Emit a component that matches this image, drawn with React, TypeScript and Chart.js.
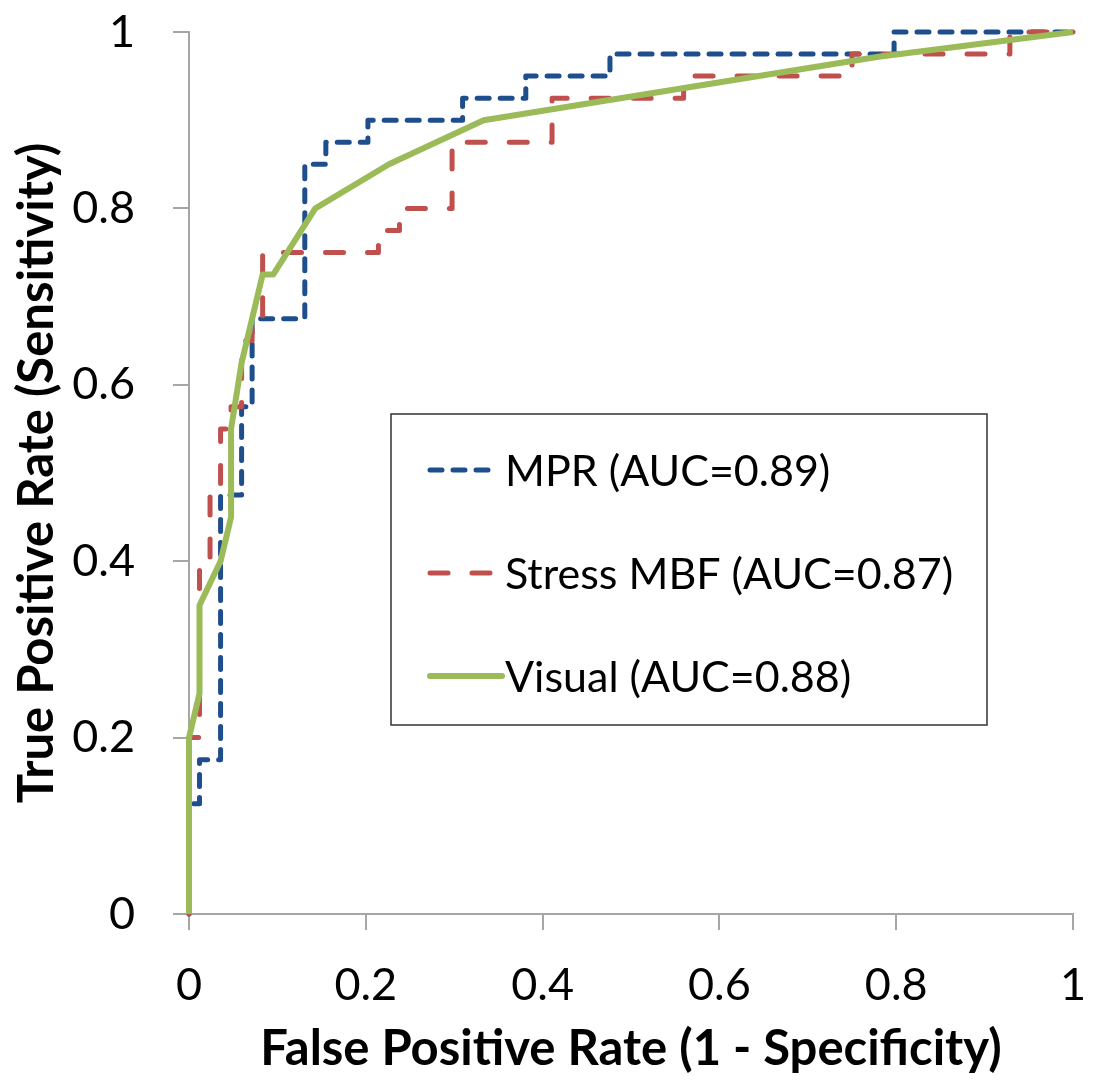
import React, { useEffect, useRef } from "react";
import { Chart, registerables } from "chart.js";

Chart.register(...registerables);

// ---- Data ----
const mprFpr = [0, 0, 0.0119, 0.0119, 0.0357, 0.0357, 0.0595, 0.0595, 0.0714, 0.0714, 0.131, 0.131, 0.1548, 0.1548, 0.2024, 0.2024, 0.3095, 0.3095, 0.381, 0.381, 0.4762, 0.4762, 0.7976, 0.7976, 1];
const mprTpr = [0, 0.125, 0.125, 0.175, 0.175, 0.475, 0.475, 0.575, 0.575, 0.675, 0.675, 0.85, 0.85, 0.875, 0.875, 0.9, 0.9, 0.925, 0.925, 0.95, 0.95, 0.975, 0.975, 1, 1];

const mbfFpr = [0, 0, 0.0119, 0.0119, 0.0238, 0.0238, 0.0357, 0.0357, 0.0476, 0.0476, 0.0595, 0.0595, 0.0714, 0.0714, 0.0833, 0.0833, 0.2143, 0.2143, 0.2381, 0.2381, 0.2976, 0.2976, 0.4107, 0.4107, 0.5595, 0.5595, 0.75, 0.75, 0.9286, 0.9286, 1];
const mbfTpr = [0, 0.2, 0.2, 0.4, 0.4, 0.475, 0.475, 0.55, 0.55, 0.575, 0.575, 0.65, 0.65, 0.675, 0.675, 0.75, 0.75, 0.775, 0.775, 0.8, 0.8, 0.875, 0.875, 0.925, 0.925, 0.95, 0.95, 0.975, 0.975, 1, 1];

const visFpr = [0, 0, 0.0119, 0.0119, 0.0357, 0.0476, 0.0476, 0.0595, 0.0833, 0.0952, 0.1429, 0.2262, 0.3333, 0.78, 1];
const visTpr = [0, 0.2, 0.25, 0.35, 0.4, 0.45, 0.55, 0.625, 0.725, 0.725, 0.8, 0.85, 0.9, 0.972, 1];

const seriesLabels = ["MPR (AUC=0.89)", "Stress MBF (AUC=0.87)", "Visual (AUC=0.88)"];
const tickValues = [0, 0.2, 0.4, 0.6, 0.8, 1];
const xTitle = "False Positive Rate (1 - Specificity)";
const yTitle = "True Positive Rate (Sensitivity)";

const BLUE = "#1F4E8C";
const RED = "#C0504D";
const GREEN = "#9BBB59";
const AXIS = "#A6A6A6";
const FONT = "Lato";

const toPts = (xs: number[], ys: number[]) => xs.map((x, i) => ({ x, y: ys[i] }));

const legendStyles = [
  { color: BLUE, dash: [12, 11], width: 5, len: 66 },
  { color: RED, dash: [18, 24], width: 5, len: 66 },
  { color: GREEN, dash: [] as number[], width: 6, len: 72 },
];

const boxLegend = {
  id: "boxLegend",
  afterDraw(chart: any) {
    const ctx = chart.ctx;
    const left = 391, top = 414, right = 987, bottom = 725;
    ctx.save();
    ctx.fillStyle = "#ffffff";
    ctx.fillRect(left, top, right - left, bottom - top);
    ctx.strokeStyle = "#333333";
    ctx.lineWidth = 1.5;
    ctx.setLineDash([]);
    ctx.strokeRect(left, top, right - left, bottom - top);
    const rows = [470, 573, 676];
    seriesLabels.forEach((label, i) => {
      const st = legendStyles[i];
      const y = rows[i];
      ctx.beginPath();
      ctx.strokeStyle = st.color;
      ctx.lineWidth = st.width;
      ctx.lineCap = "round";
      ctx.setLineDash(st.dash);
      ctx.moveTo(430, y);
      ctx.lineTo(430 + st.len, y);
      ctx.stroke();
      ctx.setLineDash([]);
      ctx.fillStyle = "#000000";
      ctx.font = `43px ${FONT}`;
      ctx.textBaseline = "middle";
      ctx.textAlign = "left";
      ctx.fillText(label, 505, y + 2);
    });
    ctx.restore();
  },
};

const zeroPad = (s: any) => {
  s.paddingTop = 0;
  s.paddingBottom = 0;
  s.paddingLeft = 0;
  s.paddingRight = 0;
};

export default function App() {
  const ref = useRef<HTMLCanvasElement | null>(null);

  useEffect(() => {
    const canvas = ref.current;
    if (!canvas) return;
    const fmt = (v: any) => {
      const n = Number(Number(v).toFixed(1));
      return tickValues.some((t) => Math.abs(t - n) < 1e-9) ? String(n) : "";
    };
    const chart = new Chart(canvas, {
      type: "scatter",
      data: {
        datasets: [
          {
            label: seriesLabels[0],
            data: toPts(mprFpr, mprTpr),
            showLine: true,
            borderColor: BLUE,
            backgroundColor: BLUE,
            borderWidth: 5,
            borderDash: [12, 11],
            borderCapStyle: "round",
            borderJoinStyle: "round",
            pointRadius: 0,
            tension: 0,
            clip: false,
            order: 2,
          } as any,
          {
            label: seriesLabels[1],
            data: toPts(mbfFpr, mbfTpr),
            showLine: true,
            borderColor: RED,
            backgroundColor: RED,
            borderWidth: 5,
            borderDash: [18, 24],
            borderCapStyle: "round",
            borderJoinStyle: "round",
            pointRadius: 0,
            tension: 0,
            clip: false,
            order: 1,
          } as any,
          {
            label: seriesLabels[2],
            data: toPts(visFpr, visTpr),
            showLine: true,
            borderColor: GREEN,
            backgroundColor: GREEN,
            borderWidth: 6,
            borderJoinStyle: "round",
            pointRadius: 0,
            tension: 0,
            clip: false,
            order: 0,
          } as any,
        ],
      },
      options: {
        responsive: false,
        animation: false,
        devicePixelRatio: 1,
        layout: { padding: { top: 32, right: 21, left: 0, bottom: 0 } },
        plugins: { legend: { display: false }, tooltip: { enabled: false } },
        scales: {
          x: {
            type: "linear",
            min: 0,
            max: 1,
            afterFit: (s: any) => { s.height = 175; zeroPad(s); },
            afterBuildTicks: (s: any) => { s.ticks = tickValues.map((v) => ({ value: v })); },
            ticks: { callback: fmt, color: "#000", font: { family: FONT, size: 45 }, padding: 28, maxRotation: 0 },
            grid: { drawOnChartArea: false, drawTicks: true, tickLength: 16, color: AXIS, lineWidth: 2 },
            border: { display: true, color: AXIS, width: 2 },
            title: { display: true, text: xTitle, color: "#000", font: { family: FONT, size: 49, weight: "bold" }, padding: { top: 0, bottom: 10 } },
          },
          y: {
            type: "linear",
            min: 0,
            max: 1,
            afterFit: (s: any) => { s.width = 189; zeroPad(s); },
            afterBuildTicks: (s: any) => { s.ticks = tickValues.map((v) => ({ value: v })); },
            ticks: { callback: fmt, color: "#000", font: { family: FONT, size: 45 }, padding: 38 },
            grid: { drawOnChartArea: false, drawTicks: true, tickLength: 16, color: AXIS, lineWidth: 2 },
            border: { display: true, color: AXIS, width: 2 },
            title: { display: true, text: yTitle, color: "#000", font: { family: FONT, size: 49, weight: "bold" }, padding: { top: 8, bottom: 0 } },
          },
        },
      } as any,
      plugins: [boxLegend],
    });
    return () => chart.destroy();
  }, []);

  return (
    <div style={{ position: "fixed", left: 0, top: 0, width: 1094, height: 1089, background: "#ffffff" }}>
      <canvas ref={ref} width={1094} height={1089} style={{ display: "block", width: 1094, height: 1089 }} />
    </div>
  );
}
